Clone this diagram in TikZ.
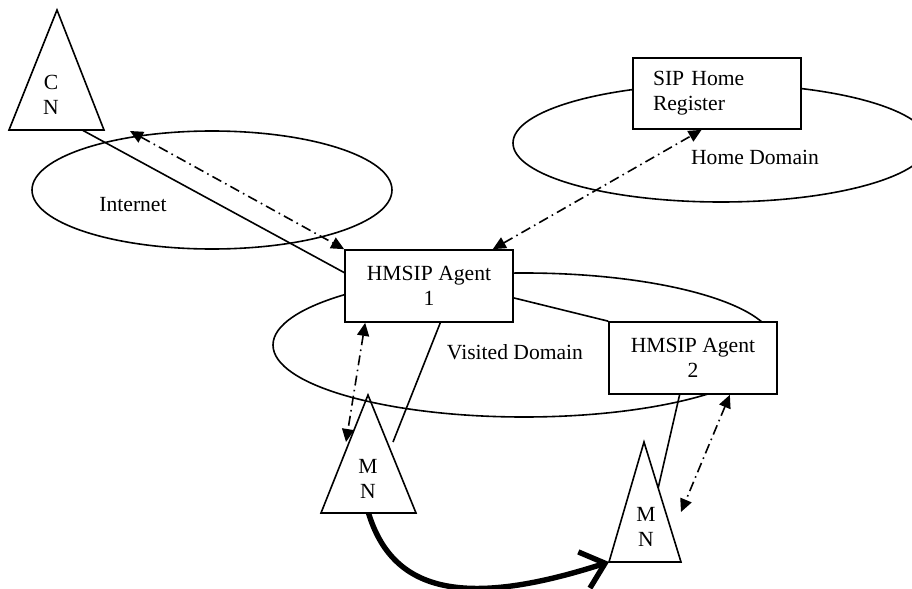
\documentclass[tikz,border=0pt]{standalone}
\usepackage{fontspec}
\setmainfont{Liberation Serif}
\usetikzlibrary{arrows.meta}
\usetikzlibrary{calc}

\begin{document}
\begin{tikzpicture}[x=0.5pt,y=-0.5pt,
    every node/.style={font=\fontsize{10.8}{12.5}\selectfont,align=center},
    agent/.style={draw,fill=white,line width=0.85pt,minimum width=84pt,minimum height=36pt,inner sep=0pt},
    thin/.style={line width=0.8pt},
    signal/.style={line width=0.8pt,dash pattern=on 5pt off 2.2pt on 0.8pt off 2.2pt,
      {Triangle[length=6.5pt,width=6pt]}-{Triangle[length=6.5pt,width=6pt]}},
    handover/.style={line width=2.7pt,-{Straight Barb[length=11pt,width=19pt]}}]
  \useasboundingbox (0,0) rectangle (912,589);
  \clip (0,0) rectangle (912,589);

  % domains
  \draw[thin] (212,190) ellipse [x radius=180, y radius=59];
  \draw[thin] (721,143) ellipse [x radius=208, y radius=59];
  \draw[thin] (524,345) ellipse [x radius=251, y radius=72];
  \node (inet)    at (133,205) {Internet};
  \node (home)    at (755,157) {Home Domain};
  \node (visited) at (515,352) {Visited Domain};

  % correspondent and mobile nodes
  \foreach \n/\ax/\ay/\lx/\rx/\by in {cn/57/10/9/104/130, mn1/368/395/321/416/513, mn2/644/442/609/681/562}
    \draw[thin] (\ax,\ay) coordinate (\n-top) -- (\lx,\by) coordinate (\n-left)
      -- (\rx,\by) coordinate (\n-right) -- cycle;
  \node (cn)  at (51,95)  {C\\N};
  \node (mn1) at (368,479) {M\\N};
  \node (mn2) at (646,527) {M\\N};

  % agents and register
  \node[agent] (ha1) at (429,286) {HMSIP Agent\\1};
  \node[agent] (ha2) at (693,358) {HMSIP Agent\\2};
  \node[agent,align=left,text width=64pt,inner xsep=10pt,minimum height=35.5pt] (reg) at (717,93.5) {SIP Home\\Register};

  \coordinate (cn-foot) at ($(cn-left)!0.77!(cn-right)$);
  \coordinate (cn-sig)  at (130,131);
  \coordinate (mn1-in)  at (393,442);
  \coordinate (mn1-sig) at (346,442);
  \coordinate (mn2-in)  at ($(mn2-top)!0.383!(mn2-right)$);
  \coordinate (mn2-sig) at (681,512);

  % links
  \draw[thin] (cn-foot) -- (ha1.171);
  \draw[thin] (ha1.-8) -- (ha2.north west);
  \draw[thin] (ha1.-73) -- (mn1-in);
  \draw[thin] (ha2.250) -- (mn2-in);

  % signalling
  \draw[signal] (cn-sig) -- (ha1.north west);
  \draw[signal] (ha1.30) -- (reg.247);
  \draw[signal] (ha1.210) -- (mn1-sig);
  \draw[signal] (ha2.-45) -- (mn2-sig);

  % movement
  \draw[handover] ($(mn1-left)!0.5!(mn1-right)$) .. controls (392,590) and (460,610) .. (mn2-left);
\end{tikzpicture}
\end{document}
